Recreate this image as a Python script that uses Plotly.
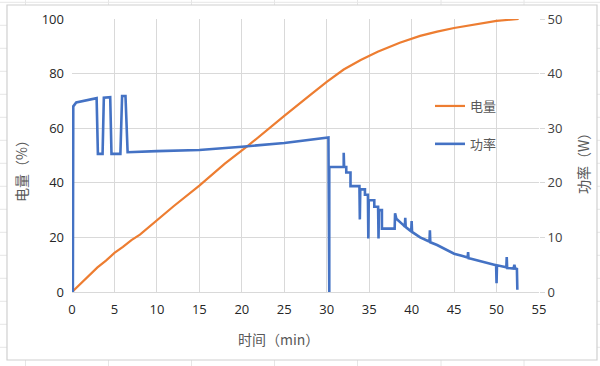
import plotly.graph_objects as go

# ---------------- data ----------------
soc_t = [0, 1, 2, 3, 4, 5, 6, 7, 8, 10, 12, 15, 18, 20.7, 23, 25, 28, 30,
         32, 34, 36, 38.6, 41, 43, 45, 47, 50, 52.6]
soc = [0, 3, 6, 9, 11.5, 14.3, 16.5, 19, 21, 26.4, 31.5, 39, 47, 53.5, 59.5,
       64.5, 72, 77, 81.5, 85, 88, 91.3, 93.8, 95.4, 96.7, 97.8, 99.3, 100]

pw_t = [0, 0.1, 0.15, 0.5, 2.9, 3.05, 3.6, 3.75, 4.5, 4.65, 5.7, 5.9, 6.3, 6.55,
        10, 15, 20, 25, 30.2, 30.3, 30.3, 32.0, 32.0, 32.05, 32.3, 32.3, 32.8, 32.8,
        33.85, 33.9, 33.95, 34.5, 34.5, 34.85, 34.9, 34.95, 35.6, 35.6, 36.05, 36.1,
        36.15, 36.5, 36.5, 38.0, 38.05, 38.2, 39, 39.2, 39.25, 39.3, 39.95, 40.0,
        40.05, 41, 42, 42.1, 42.15, 42.2, 43, 44, 45, 46, 46.6, 46.65, 46.7, 47, 48,
        49, 49.95, 50.0, 50.05, 51, 51.15, 51.2, 51.25, 52.0, 52.1, 52.2, 52.4, 52.45]
pw = [0, 0, 34, 34.7, 35.5, 25.3, 25.3, 35.6, 35.7, 25.3, 25.3, 35.9, 35.9, 25.6,
      25.8, 26.0, 26.6, 27.3, 28.3, 0, 22.9, 22.9, 25.5, 22.9, 22.9, 21.9, 21.9, 19.4,
      19.4, 13.3, 18.8, 18.8, 17.8, 17.8, 9.8, 16.8, 16.8, 15.6, 15.6, 9.8,
      15.0, 15.0, 11.6, 11.6, 14.4, 13.4, 12.3, 12.0, 13.6, 11.9, 11.1, 13.0,
      11.0, 10.0, 9.3, 9.2, 11.3, 9.1, 8.6, 7.8, 7.0, 6.6, 6.3, 7.3, 6.2, 6.1, 5.7,
      5.3, 4.9, 1.6, 4.9, 4.6, 4.5, 6.4, 4.4, 4.3, 5.0, 4.3, 4.2, 0.4]

x_ticks = list(range(0, 56, 5))
soc_ticks = [0, 20, 40, 60, 80, 100]
pw_ticks = [0, 10, 20, 30, 40, 50]

ORANGE = "#ED7D31"
BLUE = "#4472C4"
GRID = "#D9D9D9"
CJK = "Noto Sans CJK SC"

fig = go.Figure()
fig.add_trace(go.Scatter(x=soc_t, y=soc, mode="lines", name="电量",
                         line=dict(color=ORANGE, width=2.2), legendgroup="a"))
fig.add_trace(go.Scatter(x=pw_t, y=pw, mode="lines", name="功率", yaxis="y2",
                         line=dict(color=BLUE, width=2.6), legendgroup="b"))

W, H = 600, 366
L, R, T, B = 72, 539, 19, 292


def px(x):
    return (x - L) / (R - L)


def py(y):
    return (B - y) / (B - T)


shapes = []
# spreadsheet cell lines in background
for cx in [25.5, 108.5, 191.5, 274.5, 357.5, 441, 524]:
    shapes.append(dict(type="line", xref="paper", yref="paper", x0=px(cx), x1=px(cx),
                       y0=py(0), y1=py(H), line=dict(color="#E6E6E6", width=1), layer="below"))
ry = 2.3
while ry < H:
    shapes.append(dict(type="line", xref="paper", yref="paper", x0=px(0), x1=px(W),
                       y0=py(ry), y1=py(ry), line=dict(color="#E6E6E6", width=1), layer="below"))
    ry += 23
# chart area (white with border)
shapes.append(dict(type="rect", xref="paper", yref="paper", x0=px(7), x1=px(597),
                   y0=py(360), y1=py(5), fillcolor="white",
                   line=dict(color="#D0D0D0", width=1.2), layer="below"))

tick_font = dict(family="Open Sans", size=13, color="#262626")
title_font = dict(family=CJK, size=14, color="#595959")

fig.update_layout(
    width=W, height=H,
    margin=dict(l=L, r=W - R, t=T, b=H - B, autoexpand=False),
    paper_bgcolor="white",
    plot_bgcolor="rgba(0,0,0,0)",
    font=dict(family=CJK, size=13, color="#404040"),
    shapes=shapes,
    showlegend=True,
    legend=dict(x=px(430), y=py(91), xanchor="left", yanchor="top",
                bgcolor="rgba(0,0,0,0)", font=dict(family=CJK, size=13, color="#595959"),
                tracegroupgap=18, traceorder="grouped", itemwidth=30),
    xaxis=dict(range=[0, 55], tickvals=x_ticks, ticktext=[str(v) for v in x_ticks],
               showgrid=True, gridcolor=GRID, gridwidth=1, zeroline=False,
               showline=True, linecolor=GRID, ticks="", ticklabelstandoff=5,
               automargin=False, tickfont=tick_font),
    yaxis=dict(range=[0, 100], tickvals=soc_ticks, showgrid=True, gridcolor=GRID,
               zeroline=False, showline=False, ticks="", ticklabelstandoff=7,
               automargin=False, tickfont=tick_font),
    yaxis2=dict(range=[0, 50], tickvals=pw_ticks, overlaying="y", side="right",
                showgrid=False, zeroline=False, showline=False,
                ticks="outside", ticklen=5, tickcolor=GRID, automargin=False,
                tickfont=dict(family="Open Sans", size=13, color="#404040")),
    annotations=[
        dict(text="时间（min）", xref="paper", yref="paper",
             x=px(278), y=py(339), xanchor="center", yanchor="middle",
             showarrow=False, font=title_font),
        dict(text="电量（%）", xref="paper", yref="paper", textangle=-90,
             x=px(21), y=py(168), xanchor="center", yanchor="middle",
             showarrow=False, font=title_font),
        dict(text="功率（W）", xref="paper", yref="paper", textangle=-90,
             x=px(583), y=py(160), xanchor="center", yanchor="middle",
             showarrow=False, font=title_font),
    ],
)

fig.write_html("out.html", config={"displayModeBar": False},
               post_script="document.body.style.margin='0';document.body.style.overflow='hidden';")
